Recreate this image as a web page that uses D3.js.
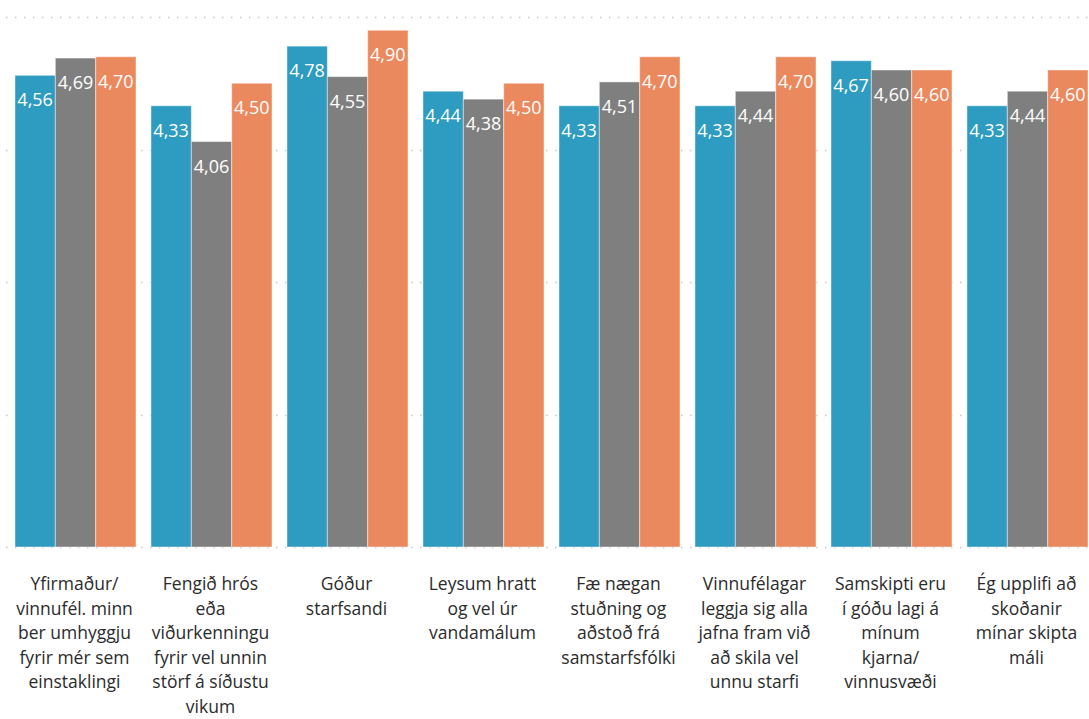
<!DOCTYPE html>
<html>
<head>
<meta charset="utf-8">
<script src="https://cdn.jsdelivr.net/npm/d3@7"></script>
<style>
  html, body { margin: 0; padding: 0; background: #fff; }
  svg { display: block; }
</style>
</head>
<body>
<svg id="chart" width="1089" height="719"></svg>
<script>
const categories = [
  "Yfirmaður/\nvinnufél. minn\nber umhyggju\nfyrir mér sem\neinstaklingi",
  "Fengið hrós\neða\nviðurkenningu\nfyrir vel unnin\nstörf á síðustu\nvikum",
  "Góður\nstarfsandi",
  "Leysum hratt\nog vel úr\nvandamálum",
  "Fæ nægan\nstuðning og\naðstoð frá\nsamstarfsfólki",
  "Vinnufélagar\nleggja sig alla\njafna fram við\nað skila vel\nunnu starfi",
  "Samskipti eru\ní góðu lagi á\nmínum\nkjarna/\nvinnusvæði",
  "Ég upplifi að\nskoðanir\nmínar skipta\nmáli"
];
const seriesNames = ["Röð 1", "Röð 2", "Röð 3"];
const series1 = [4.56, 4.33, 4.78, 4.44, 4.33, 4.33, 4.67, 4.33];
const series2 = [4.69, 4.06, 4.55, 4.38, 4.51, 4.44, 4.60, 4.44];
const series3 = [4.70, 4.50, 4.90, 4.50, 4.70, 4.70, 4.60, 4.60];
const colors = ["#2E9BC0", "#7F7F7F", "#EB895E"];
const yTicks = [1, 2, 3, 4, 5];

const allSeries = [series1, series2, series3];
const svg = d3.select("#chart");
const W = 1089;

const x0 = d3.scaleBand().domain(categories.map((d, i) => i))
  .range([7.5, 1095.5]).paddingInner(0.11).paddingOuter(0.055);
const x1 = d3.scaleBand().domain(seriesNames).range([0, x0.bandwidth()]).padding(0);
const y = d3.scaleLinear().domain([1, 5]).range([547, 17]);

// gridlines
svg.append("g").selectAll("line").data(yTicks).join("line")
  .attr("x1", 6).attr("x2", W)
  .attr("y1", d => Math.round(y(d)) + 0.5).attr("y2", d => Math.round(y(d)) + 0.5)
  .attr("stroke", "#c6c6c6").attr("stroke-width", 1.5)
  .attr("stroke-dasharray", "1.5,7.5");

const groups = svg.append("g").selectAll("g").data(categories).join("g")
  .attr("transform", (d, i) => `translate(${x0(i)},0)`);

groups.each(function(cat, ci) {
  const g = d3.select(this);
  const vals = allSeries.map((s, si) => ({ name: seriesNames[si], v: s[ci], c: colors[si] }));
  g.selectAll("rect").data(vals).join("rect")
    .attr("x", d => x1(d.name))
    .attr("y", d => y(d.v))
    .attr("width", x1.bandwidth())
    .attr("height", d => y(1) - y(d.v))
    .attr("fill", d => d.c)
    .attr("stroke", "rgba(255,255,255,0.45)")
    .attr("stroke-width", 1);
  g.selectAll("text.val").data(vals).join("text")
    .attr("class", "val")
    .attr("x", d => x1(d.name) + x1.bandwidth() / 2)
    .attr("y", d => y(d.v) + 31)
    .attr("text-anchor", "middle")
    .attr("fill", "#fff")
    .style("font-family", "'Open Sans', sans-serif")
    .style("font-size", "18px")
    .text(d => d3.format(".2f")(d.v).replace(".", ","));
  const lines = cat.split("\n");
  const t = g.append("text")
    .attr("text-anchor", "middle")
    .attr("fill", "#2b2b2b")
    .style("font-family", "'Open Sans', sans-serif")
    .style("font-size", "17.5px");
  lines.forEach((ln, li) => {
    t.append("tspan").attr("x", x0.bandwidth() / 2 - 1).attr("y", 590 + li * 24.6).text(ln);
  });
});
</script>
</body>
</html>
